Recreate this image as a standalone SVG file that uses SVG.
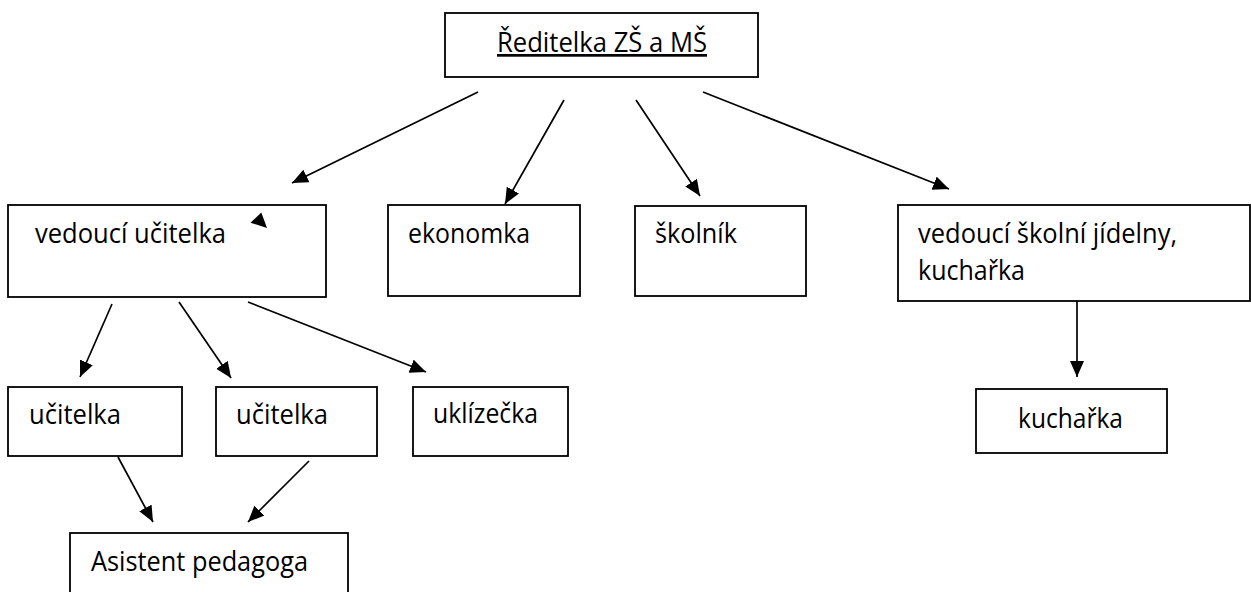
<svg xmlns="http://www.w3.org/2000/svg" width="1251" height="592" viewBox="0 0 1251 592">
<style>
.box{fill:#fff;stroke:#000;stroke-width:1.8}
.lbl{font-family:"Open Sans","Noto Sans","Liberation Sans",sans-serif;font-size:27px;fill:#000}
.con{stroke:#000;stroke-width:1.7;fill:none;marker-end:url(#ah)}
</style>
<defs>
<marker id="ah" markerUnits="userSpaceOnUse" markerWidth="18" markerHeight="15" refX="16" refY="7" orient="auto">
<path d="M0,0 L16,7 L0,14 z" fill="#000"/>
</marker>
</defs>
<rect width="1251" height="592" fill="#fff"/>
<g id="reditelka"><rect class="box" x="445" y="13" width="313" height="64"/><text class="lbl" x="497" y="52" textLength="210" lengthAdjust="spacingAndGlyphs" text-decoration="underline">Ředitelka ZŠ a MŠ</text></g>
<g id="vedouci-ucitelka"><rect class="box" x="8" y="205" width="318" height="92"/><text class="lbl" x="35" y="243" textLength="191" lengthAdjust="spacingAndGlyphs">vedoucí učitelka</text><polygon points="250.5,222.7 261.3,212.5 267,228" fill="#000"/></g>
<g id="ekonomka"><rect class="box" x="388" y="205" width="192" height="91"/><text class="lbl" x="408" y="243" textLength="122" lengthAdjust="spacingAndGlyphs">ekonomka</text></g>
<g id="skolnik"><rect class="box" x="635" y="206" width="171" height="90"/><text class="lbl" x="655" y="243" textLength="82" lengthAdjust="spacingAndGlyphs">školník</text></g>
<g id="vedouci-jidelny"><rect class="box" x="898" y="205" width="352" height="96"/><text class="lbl" x="918" y="243" textLength="259" lengthAdjust="spacingAndGlyphs">vedoucí školní jídelny,</text><text class="lbl" x="918" y="280" textLength="107" lengthAdjust="spacingAndGlyphs">kuchařka</text></g>
<g id="kucharka"><rect class="box" x="976" y="389" width="191" height="64"/><text class="lbl" x="1018" y="428" textLength="105" lengthAdjust="spacingAndGlyphs">kuchařka</text></g>
<g id="ucitelka1"><rect class="box" x="8" y="387" width="174" height="69"/><text class="lbl" x="29" y="424" textLength="92" lengthAdjust="spacingAndGlyphs">učitelka</text></g>
<g id="ucitelka2"><rect class="box" x="216" y="387" width="161" height="69"/><text class="lbl" x="236" y="424" textLength="92" lengthAdjust="spacingAndGlyphs">učitelka</text></g>
<g id="uklizecka"><rect class="box" x="413" y="387" width="155" height="69"/><text class="lbl" x="433" y="423" textLength="105" lengthAdjust="spacingAndGlyphs">uklízečka</text></g>
<g id="asistent"><rect class="box" x="70" y="533" width="278" height="70"/><text class="lbl" x="91" y="571" textLength="217" lengthAdjust="spacingAndGlyphs">Asistent pedagoga</text></g>
<g id="connectors">
<line class="con" x1="478" y1="92" x2="292" y2="183"/>
<line class="con" x1="564" y1="100" x2="505" y2="204"/>
<line class="con" x1="636" y1="100" x2="700" y2="196"/>
<line class="con" x1="703" y1="92" x2="949" y2="189"/>
<line class="con" x1="1077" y1="301" x2="1077" y2="377"/>
<line class="con" x1="112" y1="304" x2="80" y2="377"/>
<line class="con" x1="179" y1="302" x2="231" y2="378"/>
<line class="con" x1="248" y1="302" x2="426" y2="372"/>
<line class="con" x1="118" y1="457" x2="153" y2="522"/>
<line class="con" x1="309" y1="461" x2="248" y2="522"/>
</g>
</svg>
